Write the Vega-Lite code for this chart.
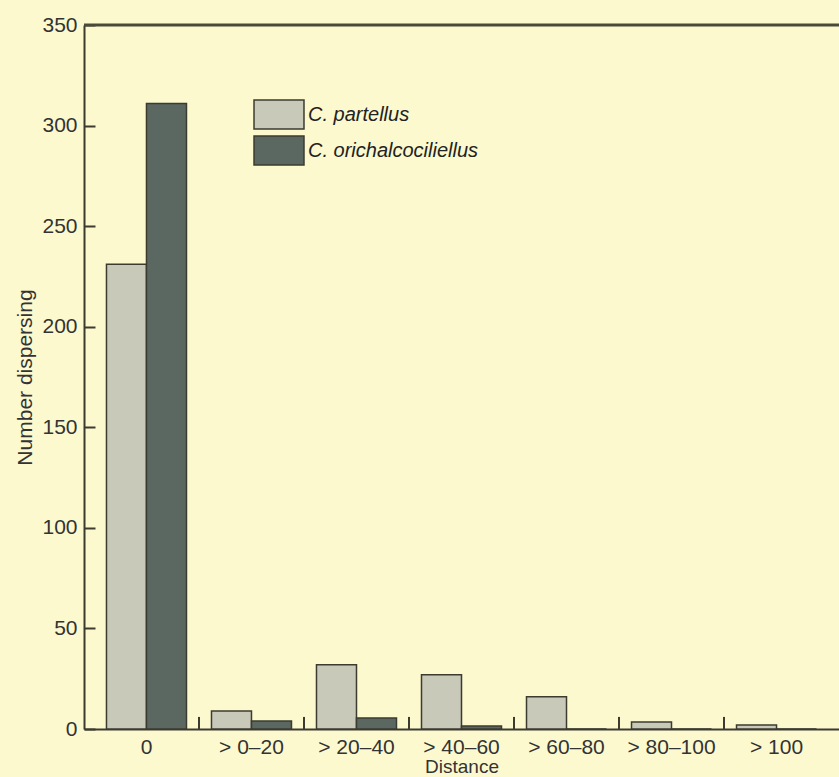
{
  "$schema": "https://vega.github.io/schema/vega-lite/v6.json",
  "width": 755,
  "height": 704,
  "autosize": {"type": "none"},
  "padding": {"left": 84, "top": 25, "right": 0, "bottom": 48},
  "background": "#fcf9cf",
  "config": {"view": {"stroke": null}, "font": "Liberation Sans"},
  "layer": [
    {
      "data": {
        "values": [
          {"distance": "0", "species": "C. partellus", "count": 231},
          {"distance": "0", "species": "C. orichalcociliellus", "count": 311},
          {"distance": "> 0–20", "species": "C. partellus", "count": 9},
          {"distance": "> 0–20", "species": "C. orichalcociliellus", "count": 4},
          {"distance": "> 20–40", "species": "C. partellus", "count": 32},
          {"distance": "> 20–40", "species": "C. orichalcociliellus", "count": 5.5},
          {"distance": "> 40–60", "species": "C. partellus", "count": 27},
          {"distance": "> 40–60", "species": "C. orichalcociliellus", "count": 1.5},
          {"distance": "> 60–80", "species": "C. partellus", "count": 16},
          {"distance": "> 60–80", "species": "C. orichalcociliellus", "count": 0},
          {"distance": "> 80–100", "species": "C. partellus", "count": 3.5},
          {"distance": "> 80–100", "species": "C. orichalcociliellus", "count": 0},
          {"distance": "> 100", "species": "C. partellus", "count": 2},
          {"distance": "> 100", "species": "C. orichalcociliellus", "count": 0}
        ]
      },
      "mark": {"type": "bar", "stroke": "#3b3b30", "strokeWidth": 1.5},
      "encoding": {
        "x": {
          "field": "distance",
          "type": "nominal",
          "scale": {
            "domain": ["0", "> 0–20", "> 20–40", "> 40–60", "> 60–80", "> 80–100", "> 100"],
            "paddingInner": 0,
            "paddingOuter": 0.095
          },
          "axis": {
            "ticks": false,
            "labelAngle": 0,
            "labelPadding": 7,
            "labelFontSize": 21,
            "labelColor": "#333",
            "domainColor": "#3b3b30",
            "domainWidth": 2,
            "title": "Distance",
            "titleFontSize": 19,
            "titleFontWeight": "normal",
            "titleColor": "#333",
            "titlePadding": 0
          }
        },
        "xOffset": {
          "field": "species",
          "type": "nominal",
          "scale": {
            "domain": ["C. partellus", "C. orichalcociliellus"],
            "paddingInner": 0,
            "paddingOuter": 0.3125
          }
        },
        "y": {
          "field": "count",
          "type": "quantitative",
          "stack": null,
          "scale": {"domain": [0, 350], "nice": false},
          "axis": {
            "values": [0, 50, 100, 150, 200, 250, 300, 350],
            "grid": false,
            "tickSize": -11,
            "tickWidth": 2,
            "tickColor": "#3b3b30",
            "labelPadding": 18,
            "labelFontSize": 21,
            "labelColor": "#333",
            "domainColor": "#3b3b30",
            "domainWidth": 2,
            "title": "Number dispersing",
            "titleFontSize": 21,
            "titleFontWeight": "normal",
            "titleColor": "#333",
            "titlePadding": 6
          }
        },
        "color": {
          "field": "species",
          "type": "nominal",
          "scale": {
            "domain": ["C. partellus", "C. orichalcociliellus"],
            "range": ["#c9c9b9", "#5b6862"]
          },
          "legend": {
            "orient": "none",
            "legendX": 177,
            "legendY": 71.5,
            "padding": 0,
            "title": null,
            "symbolType": "M-1.47,-0.853H1.47V0.853H-1.47Z",
            "symbolSize": 1156,
            "symbolStrokeColor": "#3b3b30",
            "symbolStrokeWidth": 1.5,
            "symbolOpacity": 1,
            "labelFontSize": 20,
            "labelFontStyle": "italic",
            "labelColor": "#222",
            "labelOffset": 11,
            "labelLimit": 0,
            "rowPadding": -2
          }
        }
      }
    },
    {
      "data": {
        "values": [
          {"distance": "> 0–20"},
          {"distance": "> 20–40"},
          {"distance": "> 40–60"},
          {"distance": "> 60–80"},
          {"distance": "> 80–100"},
          {"distance": "> 100"}
        ]
      },
      "mark": {"type": "rule", "stroke": "#3b3b30", "strokeWidth": 2},
      "encoding": {
        "x": {"field": "distance", "type": "nominal", "bandPosition": 0},
        "y": {"datum": 0},
        "y2": {"datum": 6}
      }
    },
    {
      "data": {"values": [{"edge": "top"}]},
      "mark": {"type": "rule", "stroke": "#4a4a38", "strokeWidth": 3},
      "encoding": {"y": {"datum": 350}}
    }
  ]
}
